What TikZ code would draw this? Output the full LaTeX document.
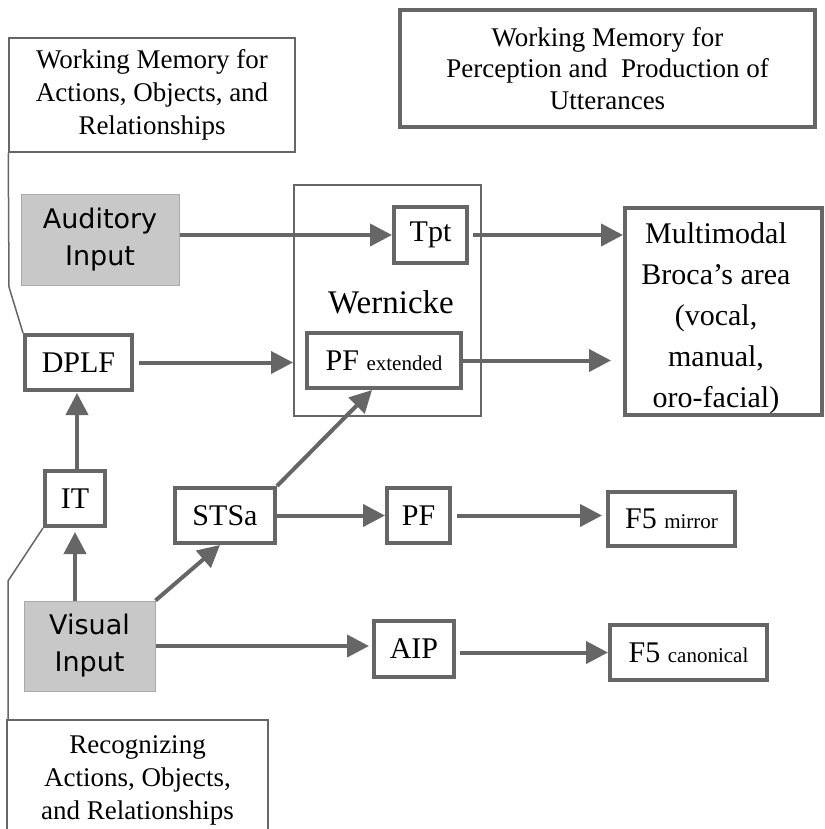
\documentclass[tikz,border=0pt]{standalone}
\usepackage{fontspec}
\setmainfont{Liberation Serif}
\newfontfamily\handfont{DejaVu Sans}
\usepackage{tikz}
\usetikzlibrary{positioning, arrows.meta, calc}
\definecolor{theme}{RGB}{102,102,102}
\definecolor{shade}{RGB}{200,200,200}
\newcommand{\lowtag}[1]{{\fontsize{21}{24}\selectfont #1}}

\tikzset{
  area/.style={draw=theme, line width=4pt, inner sep=0pt, align=center, font=\fontsize{30}{36}\selectfont},
  note/.style={draw=theme, line width=1.5pt, inner sep=0pt, align=center, font=\fontsize{27}{33}\selectfont},
  input/.style={fill=shade, draw=shade!85!black, line width=1pt, inner sep=0pt, align=center, font=\handfont\fontsize{27}{37}\selectfont},
  flow/.style={theme, line width=4pt, -{Triangle[length=22pt,width=22pt]}},
  link/.style={theme, line width=1.5pt},
}

\begin{document}
\begin{tikzpicture}[x=1pt, y=-1pt]
        \useasboundingbox (0,0) rectangle (824,829);
        % working memory boxes
        \node[note, minimum width=286pt, minimum height=114pt] (wmact) at (152,95) {Working Memory for\\Actions, Objects, and\\Relationships};
        \node[area, minimum width=415pt, minimum height=117pt, font=\fontsize{27}{31.5}\selectfont] (wmutt) at (607.5,68.5) {Working Memory for\\Perception and\ \ Production of\\Utterances};
        % inputs
        \node[input, minimum width=158pt, minimum height=91pt] (aud) at (100,239.5) {Auditory\\Input};
        \node[input, minimum width=131pt, minimum height=90pt] (vis) at (89.5,646) {Visual\\Input};
        % Wernicke
        \node[draw=theme, line width=2pt, minimum width=187pt, minimum height=231pt] (wern) at (387.5,300.5) {};
        \node[font=\fontsize{33}{38}\selectfont] (wernlb) at (391,302) {Wernicke};
        \node[area, minimum width=73pt, minimum height=56pt] (tpt) at (430.5,235) {Tpt};
        \node[area, minimum width=154pt, minimum height=55pt] (pfext) at (384,360.5) {PF \lowtag{extended}};
        \node[area, minimum width=197pt, minimum height=207pt] (broca) at (723.5,311.5) {};
        \node[align=center, inner sep=0pt, font=\fontsize{30}{41}\selectfont] (brocalb) at (716,318) {Multimodal\\Broca's area\\(vocal,\\manual,\\oro-facial)};
        % ventral and dorsal streams
        \node[area, minimum width=107pt, minimum height=55pt] (dplf) at (78.5,362.5) {DPLF};
        \node[area, minimum width=60pt, minimum height=55pt] (it) at (75,498.5) {IT};
        \node[area, minimum width=100pt, minimum height=55pt] (stsa) at (225,515.5) {STSa};
        \node[area, minimum width=63pt, minimum height=55pt] (pf) at (418.5,515.5) {PF};
        \node[area, minimum width=127pt, minimum height=54pt] (mirror) at (671.5,519) {F5 \lowtag{mirror}};
        \node[area, minimum width=80pt, minimum height=56pt] (aip) at (414,649) {AIP};
        \node[area, minimum width=157pt, minimum height=55pt] (canon) at (688.5,652.5) {F5 \lowtag{canonical}};
        \node[note, minimum width=261pt, minimum height=120pt] (recog) at (137.5,780) {Recognizing\\Actions, Objects,\\and Relationships};
        % callout lines
        \coordinate (bend1) at (9,287);
        \coordinate (bend2) at (8,581);
        \draw[link] (wmact.south west) -- (bend1) -- (dplf.north west);
        \draw[link] (it.south west) -- (bend2) -- (recog.north west -| bend2);
        % arrows
        \draw[flow] (aud.east |- tpt.west) -- (tpt.west);
        \draw[flow, shorten <=4pt] (tpt.east) -- (tpt.east -| broca.west);
        \draw[flow, shorten <=5pt] (dplf.east) -- (dplf.east -| wern.west);
        \draw[flow, shorten >=12pt] (pfext.east) -- (pfext.east -| broca.west);
        \draw[flow, shorten >=1pt] (it.north -| 77,0) -- (dplf.south -| 77,0);
        \draw[flow, shorten >=4pt] (vis.north -| it) -- (it.south);
        \draw[flow] (vis.north east) -- ([xshift=-5pt]stsa.south);
        \draw[flow] (stsa.north east) -- ([xshift=-12pt]pfext.south);
        \draw[flow] (stsa.east) -- (stsa.east -| pf.west);
        \draw[flow, shorten <=5pt, shorten >=4pt] (pf.east) -- (pf.east -| mirror.west);
        \draw[flow, shorten >=3pt] (vis.east) -- (vis.east -| aip.west);
        \draw[flow, shorten <=4pt] (aip.east |- canon.west) -- (canon.west);
    \end{tikzpicture}
\end{document}
